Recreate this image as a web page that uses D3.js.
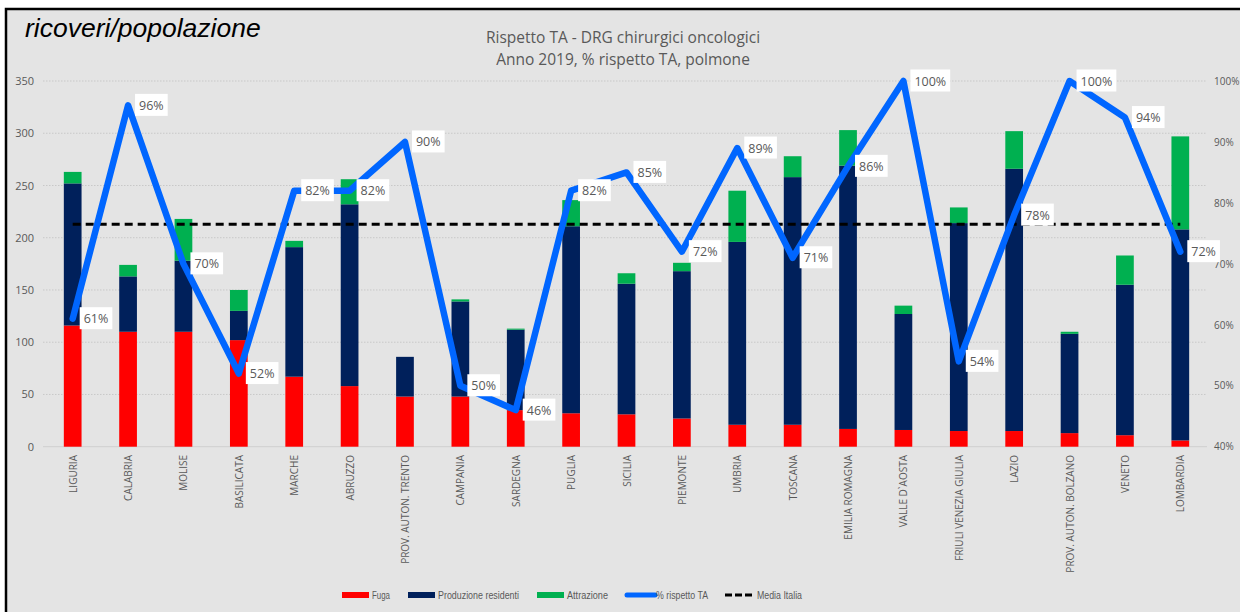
<!DOCTYPE html>
<html>
<head>
<meta charset="utf-8">
<script src="https://cdn.jsdelivr.net/npm/d3@7"></script>
<style>
  html, body { margin: 0; padding: 0; background: #ffffff; }
  svg { display: block; }
</style>
</head>
<body>
<svg id="chart" width="1240" height="612"></svg>
<script>
const categories = ["LIGURIA","CALABRIA","MOLISE","BASILICATA","MARCHE","ABRUZZO","PROV. AUTON. TRENTO","CAMPANIA","SARDEGNA","PUGLIA","SICILIA","PIEMONTE","UMBRIA","TOSCANA","EMILIA ROMAGNA","VALLE D`AOSTA","FRIULI VENEZIA GIULIA","LAZIO","PROV. AUTON. BOLZANO","VENETO","LOMBARDIA"];
const fuga       = [116,110,110,102, 67, 58, 48, 48, 35, 32, 31, 27, 21, 21, 17, 16, 15, 15, 13, 11,  6];
const produzione = [136, 53, 68, 28,124,174, 38, 91, 77,179,125,141,175,237,252,111,199,251, 95,144,202];
const attrazione = [ 11, 11, 40, 20,  6, 24,  0,  2,  1, 25, 10,  8, 49, 20, 34,  8, 15, 36,  2, 28, 89];
const rispettoTA = [61, 96, 70, 52, 82, 82, 90, 50, 46, 82, 85, 72, 89, 71, 86, 100, 54, 78, 100, 94, 72];
const mediaItalia = 76.5;
const leftTicks = [0,50,100,150,200,250,300,350];
const rightTicks = [40,50,60,70,80,90,100];
const seriesNames = ["Fuga","Produzione residenti","Attrazione","% rispetto TA","Media Italia"];
const colors = {fuga:"#ff0000", prod:"#00205b", attr:"#00b050", line:"#0066ff", media:"#000000"};

const svg = d3.select("#chart");
const W = 1240, H = 612;
const gray = "#595959";
const fontUI = "'Open Sans', 'Noto Sans', sans-serif";

// background + border
svg.append("rect").attr("x",0).attr("y",0).attr("width",W).attr("height",H).attr("fill","#ffffff");
svg.append("rect").attr("x",6).attr("y",9).attr("width",W).attr("height",H).attr("fill","#e4e4e4")
   .attr("stroke","#000").attr("stroke-width",2.5);

const plot = {left:45, right:1208, top:81, bottom:446.7};

const x = d3.scaleBand().domain(categories).range([plot.left, plot.right]).paddingInner(0.68).paddingOuter(0.34);
const yL = d3.scaleLinear().domain([0,350]).range([plot.bottom, plot.top]);
const yR = d3.scaleLinear().domain([0.4,1.0]).range([plot.bottom, plot.top]);

// gridlines
svg.append("g").selectAll("line").data(leftTicks.slice(1)).join("line")
  .attr("x1",43).attr("x2",1207)
  .attr("y1",d=>yL(d)).attr("y2",d=>yL(d))
  .attr("stroke","#c8c8c8").attr("stroke-width",1).attr("stroke-dasharray","1.5,1.5");
svg.append("line").attr("x1",43).attr("x2",1207).attr("y1",yL(0)).attr("y2",yL(0))
  .attr("stroke","#cfcfcf").attr("stroke-width",1);

// left axis
const axL = d3.axisLeft(yL).tickValues(leftTicks).tickSize(0).tickPadding(0);
const gL = svg.append("g").attr("transform","translate(34,0)").call(axL);
gL.select(".domain").remove();
gL.selectAll("text").attr("fill",gray).style("font-family",fontUI).style("font-size","11px");

// right axis
const axR = d3.axisRight(yR).tickValues(rightTicks.map(d=>d/100)).tickFormat(d3.format(".0%")).tickSize(0).tickPadding(0);
const gR = svg.append("g").attr("transform","translate(1214,0)").call(axR);
gR.select(".domain").remove();
gR.selectAll("text").attr("fill",gray).style("font-family",fontUI).style("font-size","10px");

// stacked bars
const rows = categories.map((c,i)=>({cat:c, fuga:fuga[i], prod:produzione[i], attr:attrazione[i]}));
const stack = d3.stack().keys(["fuga","prod","attr"])(rows);
svg.append("g").selectAll("g").data(stack).join("g")
  .attr("fill",d=>colors[d.key])
  .selectAll("rect").data(d=>d).join("rect")
  .attr("x",d=>x(d.data.cat)).attr("width",x.bandwidth())
  .attr("y",d=>yL(d[1])).attr("height",d=>Math.max(0,yL(d[0])-yL(d[1])));

// media italia dashed line
const cx = c => x(c) + x.bandwidth()/2;
svg.append("path")
  .datum(categories)
  .attr("d", d3.line().x(c=>cx(c)).y(()=>yR(mediaItalia/100)))
  .attr("fill","none").attr("stroke",colors.media).attr("stroke-width",3).attr("stroke-dasharray","8,5");

// rispetto TA line
svg.append("path")
  .datum(rispettoTA)
  .attr("d", d3.line().x((d,i)=>cx(categories[i])).y(d=>yR(d/100)))
  .attr("fill","none").attr("stroke",colors.line).attr("stroke-width",6.5)
  .attr("stroke-linejoin","round").attr("stroke-linecap","round");

// data labels
const lbl = svg.append("g").selectAll("g").data(rispettoTA).join("g")
  .attr("transform",(d,i)=>`translate(${cx(categories[i])+7},${yR(d/100)})`);
lbl.each(function(d){
  const g = d3.select(this);
  const t = g.append("text").text(d+"%").attr("x",4).attr("y",4.5)
    .attr("fill",gray).style("font-family",fontUI).style("font-size","12.5px");
  const bb = t.node().getBBox();
  g.insert("rect","text").attr("x",0).attr("y",bb.y-3).attr("width",bb.width+8).attr("height",bb.height+5).attr("fill","#ffffff");
});

// x labels
svg.append("g").selectAll("text").data(categories).join("text")
  .attr("transform",c=>`translate(${cx(c)+4},455) rotate(-90)`)
  .attr("text-anchor","end")
  .attr("fill",gray).style("font-family",fontUI).style("font-size","10px")
  .text(c=>c);

// titles
svg.append("text").attr("x",25).attr("y",37).text("ricoveri/popolazione")
  .attr("fill","#000").style("font-family","'Liberation Sans', Arial, sans-serif").style("font-style","italic").style("font-size","26.5px");
const tt = svg.append("text").attr("text-anchor","middle").attr("fill",gray)
  .style("font-family",fontUI).style("font-size","15.5px");
tt.append("tspan").attr("x",623).attr("y",43).text("Rispetto TA - DRG chirurgici oncologici");
tt.append("tspan").attr("x",623).attr("y",65).text("Anno 2019, % rispetto TA, polmone");

// legend
const legendItems = [
  {name:seriesNames[0], type:"rect", color:colors.fuga, x:342, tx:372, tw:18},
  {name:seriesNames[1], type:"rect", color:colors.prod, x:408, tx:438, tw:81},
  {name:seriesNames[2], type:"rect", color:colors.attr, x:537, tx:567, tw:41},
  {name:seriesNames[3], type:"line", color:colors.line, x:625, tx:656, tw:52},
  {name:seriesNames[4], type:"dash", color:colors.media, x:725, tx:757, tw:45}
];
const lg = svg.append("g").selectAll("g").data(legendItems).join("g");
lg.each(function(d){
  const g = d3.select(this);
  if (d.type==="rect") g.append("rect").attr("x",d.x).attr("y",592).attr("width",27).attr("height",6).attr("fill",d.color);
  else if (d.type==="line") g.append("line").attr("x1",d.x+2).attr("x2",d.x+30).attr("y1",595).attr("y2",595).attr("stroke",d.color).attr("stroke-width",5).attr("stroke-linecap","round");
  else g.append("line").attr("x1",d.x).attr("x2",d.x+28).attr("y1",595).attr("y2",595).attr("stroke",d.color).attr("stroke-width",3).attr("stroke-dasharray","7,3");
  g.append("text").attr("x",d.tx).attr("y",599)
    .attr("textLength",d.tw).attr("lengthAdjust","spacingAndGlyphs")
    .attr("fill",gray).style("font-family","'Liberation Sans', Arial, sans-serif").style("font-size","11.5px").text(d.name);
});
</script>
</body>
</html>
